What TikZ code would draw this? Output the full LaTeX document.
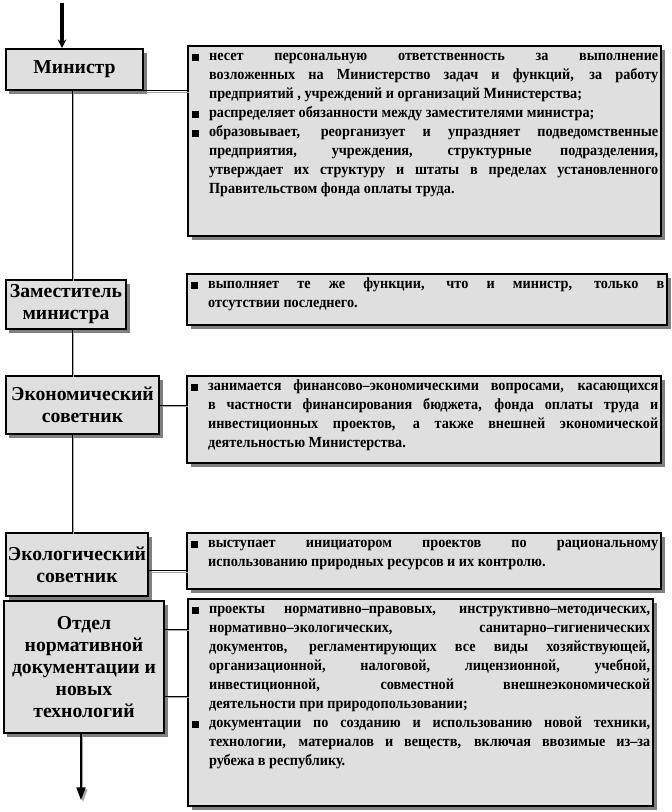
\documentclass[tikz,border=0pt]{standalone}
\usepackage{fontspec}
\setmainfont{Liberation Serif}
\newfontfamily\descfont{Liberation Serif}[FakeStretch=0.92]
\usetikzlibrary{shadows, arrows.meta}

% bullet item with hanging indent
\newcommand{\bitem}[1]{\par\hangindent=12pt\hangafter=1\noindent
  \makebox[12pt][l]{\rule{5pt}{5pt}}\strut#1\par}
% fixed-size text block of a description box
\newcommand{\desctext}[3]{\parbox[c][#2][t]{#1}{\leftskip=3pt\rightskip=2pt
  \tolerance=9999\vspace*{1pt}#3}}

\begin{document}
\begin{tikzpicture}[x=0.025cm, y=-0.025cm,
    box/.style={draw, line width=1.4pt, fill=gray!25, anchor=north west,
                drop shadow={shadow xshift=2.5pt, shadow yshift=-2.5pt,
                             fill=gray, opacity=1}},
    lbl/.style={box, align=center, inner sep=1pt,
                font=\fontsize{14}{15.6}\selectfont\bfseries},
    desc/.style={box, inner sep=0pt,
                 font=\descfont\fontsize{11}{13.5}\selectfont\bfseries},
    link/.style={line width=0.7pt,
                 preaction={draw=gray!70, line width=0.7pt,
                            transform canvas={shift={(1.4pt,-1.4pt)}}}},
    inarr/.style={line width=2.2pt, -{Stealth[length=6pt, width=6pt]}},
    outarr/.style={link, line width=1pt, -{Triangle[length=9pt, width=6.5pt]}},
  ]
  \useasboundingbox (0,0) rectangle (672,812);

  % posts
  \node[lbl, minimum width=3.425cm, minimum height=1.025cm] (min) at (5,48) {Министр};
  \node[lbl, minimum width=3cm, minimum height=1.225cm] (zam) at (5,279) {Заместитель\\министра};
  \node[lbl, minimum width=3.825cm, minimum height=1.45cm] (eco) at (5,375) {Экономический\\советник};
  \node[lbl, minimum width=3.55cm, minimum height=1.575cm] (ecol) at (5,532) {Экологический\\советник};
  \node[lbl, minimum width=4cm, minimum height=3.3cm] (otd) at (3,600)
    {Отдел\\нормативной\\документации и\\новых\\технологий};

  % duties
  \node[desc] (dmin) at (187,45) {\desctext{11.825cm}{4.75cm}{%
    \bitem{несет персональную ответственность за выполнение\linebreak
      возложенных на Министерство задач и функций, за работу\linebreak
      предприятий , учреждений и организаций Министерства;}
    \bitem{распределяет обязанности между заместителями министра;}
    \bitem{образовывает, реорганизует и упраздняет подведомственные\linebreak
      предприятия, учреждения, структурные подразделения,\linebreak
      утверждает их структуру и штаты в пределах установленного\linebreak
      Правительством фонда оплаты труда.}}};
  \node[desc] (dzam) at (186,273) {\desctext{12cm}{1.275cm}{%
    \bitem{выполняет те же функции, что и министр, только в\linebreak
      отсутствии последнего.}}};
  \node[desc] (deco) at (186,375) {\desctext{11.85cm}{2.175cm}{%
    \bitem{занимается финансово–экономическими вопросами, касающихся\linebreak
      в частности финансирования бюджета, фонда оплаты труда и\linebreak
      инвестиционных проектов, а также внешней экономической\linebreak
      деятельностью Министерства.}}};
  \node[desc] (decol) at (186,532) {\desctext{11.85cm}{1.4cm}{%
    \bitem{выступает инициатором проектов по рациональному\linebreak
      использованию природных ресурсов и их контролю.}}};
  \node[desc] (dotd) at (187,598) {\desctext{11.625cm}{5.175cm}{%
    \bitem{проекты нормативно–правовых, инструктивно–методических,\linebreak
      нормативно–экологических, санитарно–гигиенических\linebreak
      документов, регламентирующих все виды хозяйствующей,\linebreak
      организационной, налоговой, лицензионной, учебной,\linebreak
      инвестиционной, совместной внешнеэкономической\linebreak
      деятельности при природопользовании;}
    \bitem{документации по созданию и использованию новой техники,\linebreak
      технологии, материалов и веществ, включая ввозимые из–за\linebreak
      рубежа в республику.}}};

  % vertical trunk
  \coordinate (trunk) at (72,0);
  \draw[link] (min.south -| trunk) -- (zam.north -| trunk);
  \draw[link] (zam.south -| trunk) -- (eco.north -| trunk);
  \draw[link] (eco.south -| trunk) -- (ecol.north -| trunk);

  % side links
  \draw[link] (min.south east) -- (dmin.west |- min.south east);
  \draw[link] (eco.east) -- (eco.east -| deco.west);
  \draw[link] ([yshift=-0.16cm]ecol.east) -- ([yshift=-0.16cm]ecol.east -| decol.west);
  \draw[link] ([yshift=0.95cm]otd.east) -- ([yshift=0.95cm]otd.east -| dotd.west);
  \draw[link] ([yshift=-0.725cm]otd.east) -- ([yshift=-0.725cm]otd.east -| dotd.west);

  % in / out arrows
  \coordinate (top) at (62,3);
  \draw[inarr] (top) -- (top |- min.north);
  \coordinate (bot) at (81,800);
  \draw[outarr] (otd.south -| bot) -- (bot);
\end{tikzpicture}
\end{document}
